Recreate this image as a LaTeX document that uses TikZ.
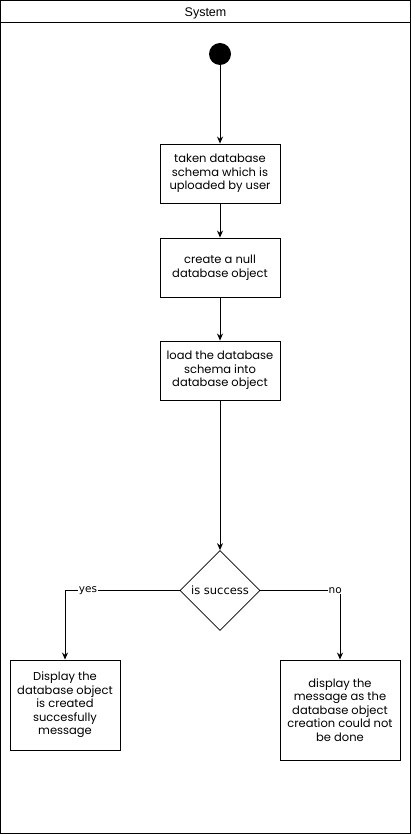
\documentclass[tikz,border=0pt]{standalone}
\usepackage{fontspec}
\setmainfont{Poppins}
\newfontfamily\labelfont{DejaVu Sans}
\newfontfamily\titlefont{Liberation Sans}
\usetikzlibrary{arrows.meta,shapes.geometric}
\begin{document}
\begin{tikzpicture}[x=1pt,y=-1pt,
  stepbox/.style={draw,line width=0.9pt,minimum width=120pt,minimum height=59pt,inner sep=1pt,align=center,font=\fontsize{11.5}{13.5}\selectfont},
  flow/.style={line width=0.9pt,-{Stealth[length=7pt,width=6pt]}},
  lbl/.style={fill=white,inner sep=0.5pt,font=\labelfont\fontsize{10.5}{12}\selectfont}]
\useasboundingbox (0,0) rectangle (411,834);
% frame
\draw[line width=1pt] (0.5,0.5) rectangle (410.5,833.5);
\draw[line width=1pt] (0.5,23) -- (410.5,23);
\node[font=\titlefont\fontsize{12.5}{14}\selectfont] (title) at (205.5,13) {System};
% start
\node[circle,fill=black,minimum size=22pt,inner sep=0pt] (start) at (220,54) {};
\node[stepbox] (b1) at (220,173.5) {taken database\\schema which is\\uploaded by user};
\node[stepbox] (b2) at (220,267.5) {create a null\\database object};
\node[stepbox] (b3) at (220,370.5) {load the database\\schema into\\database object};
\node[diamond,draw,line width=0.7pt,minimum width=80pt,minimum height=80pt,inner sep=0pt,font=\labelfont\fontsize{11.5}{13}\selectfont] (d) at (220,590.5) {is success};
\node[stepbox,minimum width=110pt,minimum height=90pt] (b4) at (65,705) {Display the\\database object\\is created\\succesfully\\message};
\node[stepbox,minimum width=120pt,minimum height=100pt] (b5) at (340,710) {display the\\message as the\\database object\\creation could not\\be done};
\draw[flow] (start) -- (b1);
\draw[flow] (b1) -- (b2);
\draw[flow] (b2) -- (b3);
\draw[flow] (b3) -- (d);
\draw[flow] (d.west) -| node[lbl,pos=0.40] {yes} (b4.north);
\draw[flow] (d.east) -| node[lbl,pos=0.47] {no} (b5.north);
\end{tikzpicture}
\end{document}
